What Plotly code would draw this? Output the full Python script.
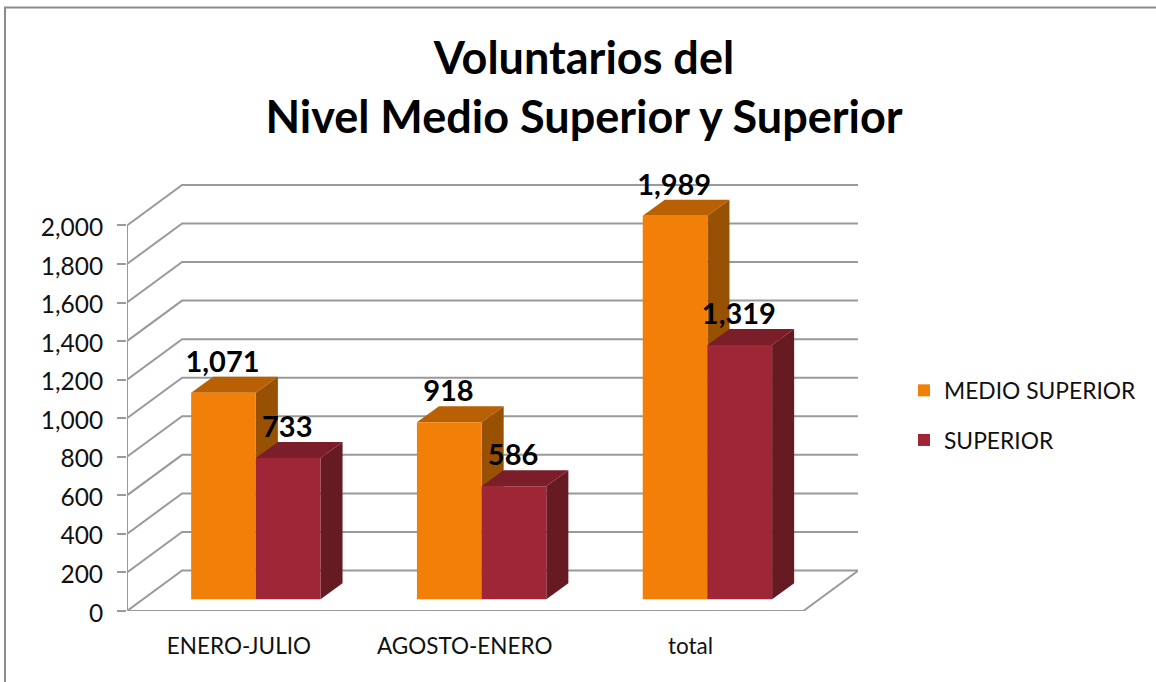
import plotly.graph_objects as go

categories = ["ENERO-JULIO", "AGOSTO-ENERO", "total"]
medio_superior = [1071, 918, 1989]
superior = [733, 586, 1319]
y_ticks = [0, 200, 400, 600, 800, 1000, 1200, 1400, 1600, 1800, 2000]

FONT = "Lato"
GRID = "#9a9a9a"
ORANGE, ORANGE_TOP, ORANGE_SIDE = "#f28008", "#b86003", "#985003"
RED, RED_TOP, RED_SIDE = "#9e2637", "#7b1e2a", "#661a22"

# depth geometry in data units
WALL_DX, WALL_DY = 0.244, 210
BAR_DX, BAR_DY = 0.0976, 83
BASE = 61
BAR_W = 0.2865
LEFT = -0.5
RIGHT_FRONT = 2.495
SHIFT_ORANGE = -0.216
SHIFT_RED = SHIFT_ORANGE + BAR_W


def poly(pts):
    return "M" + " L".join(f"{x},{y}" for x, y in pts) + " Z"


shapes = []
line = dict(color=GRID, width=2)
for t in y_ticks:
    shapes.append(dict(type="path", xref="x", yref="y", layer="below", line=line,
                       path=f"M{LEFT},{t} L{LEFT + WALL_DX},{t + WALL_DY} L{RIGHT_FRONT + WALL_DX},{t + WALL_DY}"))
shapes.append(dict(type="line", xref="x", yref="y", layer="below", line=line,
                   x0=RIGHT_FRONT, y0=0, x1=RIGHT_FRONT + WALL_DX, y1=WALL_DY))

for vals, shift, top_c, side_c in [(medio_superior, SHIFT_ORANGE, ORANGE_TOP, ORANGE_SIDE),
                                   (superior, SHIFT_RED, RED_TOP, RED_SIDE)]:
    for i, v in enumerate(vals):
        x0 = i + shift
        x1 = x0 + BAR_W
        y0 = BASE
        y1 = BASE + v
        shapes.append(dict(type="path", xref="x", yref="y", layer="below", line=dict(width=0),
                           fillcolor=side_c,
                           path=poly([(x1, y0), (x1 + BAR_DX, y0 + BAR_DY), (x1 + BAR_DX, y1 + BAR_DY), (x1, y1)])))
        shapes.append(dict(type="path", xref="x", yref="y", layer="below", line=dict(width=0),
                           fillcolor=top_c,
                           path=poly([(x0, y1), (x0 + BAR_DX, y1 + BAR_DY), (x1 + BAR_DX, y1 + BAR_DY), (x1, y1)])))

# chart frame, partly cut by the picture edge
PL, PR, PT, PB = 127, 858, 170, 611
fx = lambda px: (px - PL) / (PR - PL)
fy = lambda py: (PB - py) / (PB - PT)
shapes.append(dict(type="path", xref="paper", yref="paper", layer="below",
                   line=dict(color="#8c8c8c", width=2),
                   path=f"M{fx(5)},{fy(690)} L{fx(5)},{fy(7.5)} L{fx(1160)},{fy(7.5)}"))

fig = go.Figure()
xs = list(range(len(categories)))
fig.add_trace(go.Bar(name="MEDIO SUPERIOR", x=[i + SHIFT_ORANGE + BAR_W / 2 for i in xs], y=medio_superior,
                     base=BASE, width=BAR_W, marker=dict(color=ORANGE, line=dict(width=0)), legendgroup="a"))
fig.add_trace(go.Bar(name="SUPERIOR", x=[i + SHIFT_RED + BAR_W / 2 for i in xs], y=superior,
                     base=BASE, width=BAR_W, marker=dict(color=RED, line=dict(width=0)), legendgroup="b"))

# front axis lines
fig.add_trace(go.Scatter(x=[LEFT, LEFT, RIGHT_FRONT], y=[y_ticks[-1], 0, 0], mode="lines",
                         line=dict(color=GRID, width=2), cliponaxis=False, showlegend=False, hoverinfo="skip"))

# data labels
LABEL_GAP = 146
for vals, shift in [(medio_superior, SHIFT_ORANGE), (superior, SHIFT_RED)]:
    fig.add_trace(go.Scatter(x=[i + shift + BAR_W / 2 - 0.004 for i in xs], y=[BASE + v + LABEL_GAP for v in vals],
                             mode="text", text=[f"{v:,}" for v in vals], textposition="middle center",
                             textfont=dict(family=FONT, size=29, color="#000000", weight="bold"),
                             cliponaxis=False, showlegend=False, hoverinfo="skip"))

fig.update_layout(
    width=1156, height=682, autosize=False,
    margin=dict(l=PL, r=1156 - PR, t=PT, b=682 - PB, pad=0),
    paper_bgcolor="white", plot_bgcolor="rgba(0,0,0,0)",
    shapes=shapes,
    barmode="overlay",
    hovermode=False,
    title=dict(text="Voluntarios del<br>Nivel Medio Superior y Superior",
               font=dict(family=FONT, size=45, color="#000000", weight="bold"),
               x=584 / 1156, xanchor="center", y=1 - 74 / 682, yanchor="top"),
    xaxis=dict(range=[LEFT, LEFT + (PR - PL) / 225.8], tickmode="array", tickvals=xs, ticktext=categories,
               showgrid=False, zeroline=False, showline=False, ticks="", ticklabelstandoff=19, ticklabelshift=-1,
               tickfont=dict(family=FONT, size=22.5, color="#111111")),
    yaxis=dict(range=[0, (PB - PT) / 0.1928], tickmode="array", tickvals=y_ticks,
               ticktext=[f"{t:,}" for t in y_ticks],
               showgrid=False, zeroline=False, showline=False, ticks="outside", ticklen=9, tickwidth=2,
               tickcolor=GRID, ticklabelstandoff=9, ticklabelshift=2,
               tickfont=dict(family=FONT, size=24.5, color="#111111")),
    legend=dict(x=(904 - PL) / (PR - PL), xanchor="left", y=fy(369), yanchor="top",
                font=dict(family=FONT, size=22.8, color="#111111"), tracegroupgap=17,
                bgcolor="rgba(0,0,0,0)", itemclick=False, itemdoubleclick=False),
    showlegend=True,
)

fig.write_html("out.html", post_script="document.body.style.margin='0';",
               config={"displayModeBar": False})
